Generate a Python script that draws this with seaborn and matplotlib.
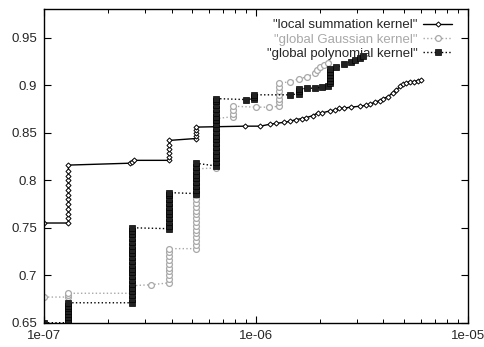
import pandas as pd
import matplotlib
matplotlib.use("Agg")
import matplotlib.pyplot as plt
import seaborn as sns
from matplotlib.ticker import LogLocator, FuncFormatter, FixedLocator, NullFormatter

# local summation kernel
local_x = [1.0e-7, 1.3e-7, 1.3e-7, 1.3e-7, 1.3e-7, 1.3e-7, 1.3e-7, 1.3e-7,
           1.3e-7, 1.3e-7, 1.3e-7, 1.3e-7, 1.3e-7, 1.3e-7,
           2.55e-7, 2.6e-7, 2.65e-7,
           3.9e-7, 3.9e-7, 3.9e-7, 3.9e-7, 3.9e-7, 3.9e-7,
           5.2e-7, 5.2e-7, 5.2e-7, 5.2e-7, 5.2e-7,
           8.9e-7, 1.05e-6, 1.16e-6, 1.25e-6, 1.35e-6, 1.44e-6, 1.55e-6, 1.65e-6,
           1.73e-6, 1.85e-6, 1.96e-6, 2.05e-6, 2.23e-6, 2.35e-6, 2.48e-6, 2.6e-6,
           2.8e-6, 3.09e-6, 3.3e-6, 3.45e-6, 3.63e-6, 3.84e-6, 4.0e-6, 4.2e-6,
           4.42e-6, 4.6e-6, 4.8e-6, 4.93e-6, 5.1e-6, 5.32e-6, 5.6e-6, 5.8e-6, 6.04e-6]
local_y = [0.755, 0.755, 0.760, 0.765, 0.770, 0.775, 0.780, 0.785,
           0.790, 0.795, 0.800, 0.805, 0.810, 0.816,
           0.818, 0.819, 0.821,
           0.821, 0.825, 0.829, 0.833, 0.837, 0.842,
           0.844, 0.847, 0.850, 0.853, 0.856,
           0.857, 0.857, 0.859, 0.860, 0.861, 0.862, 0.864, 0.865,
           0.866, 0.868, 0.871, 0.871, 0.873, 0.874, 0.876, 0.876,
           0.877, 0.878, 0.879, 0.880, 0.882, 0.884, 0.886, 0.888,
           0.892, 0.895, 0.899, 0.901, 0.902, 0.904, 0.904, 0.905, 0.906]

# global Gaussian kernel
gauss_x = [1.0e-7, 1.29e-7, 1.29e-7, 1.29e-7,
           2.6e-7, 2.6e-7, 2.6e-7, 3.2e-7, 3.9e-7,
           3.9e-7, 3.9e-7, 3.9e-7, 3.9e-7, 3.9e-7, 3.9e-7, 3.9e-7, 3.9e-7, 3.9e-7,
           5.2e-7,
           5.2e-7, 5.2e-7, 5.2e-7, 5.2e-7, 5.2e-7, 5.2e-7, 5.2e-7, 5.2e-7, 5.2e-7,
           5.2e-7, 5.2e-7, 5.2e-7, 5.2e-7, 5.2e-7, 5.2e-7, 5.2e-7, 5.2e-7, 5.2e-7,
           5.2e-7, 5.2e-7, 5.2e-7,
           6.5e-7,
           6.5e-7, 6.5e-7, 6.5e-7, 6.5e-7, 6.5e-7, 6.5e-7, 6.5e-7, 6.5e-7, 6.5e-7,
           6.5e-7, 6.5e-7, 6.5e-7, 6.5e-7,
           7.8e-7, 7.8e-7, 7.8e-7, 7.8e-7,
           1.0e-6, 1.15e-6, 1.29e-6,
           1.29e-6, 1.29e-6, 1.29e-6, 1.29e-6, 1.29e-6, 1.29e-6,
           1.45e-6, 1.6e-6, 1.75e-6, 1.9e-6, 1.95e-6, 2.0e-6, 2.1e-6, 2.2e-6]
gauss_y = [0.677, 0.677, 0.679, 0.681,
           0.681, 0.685, 0.689, 0.690, 0.692,
           0.696, 0.700, 0.704, 0.708, 0.712, 0.716, 0.720, 0.724, 0.728,
           0.728,
           0.732, 0.736, 0.740, 0.744, 0.748, 0.752, 0.756, 0.760, 0.764,
           0.768, 0.772, 0.776, 0.780, 0.784, 0.788, 0.792, 0.796, 0.800,
           0.804, 0.808, 0.812,
           0.813,
           0.817, 0.821, 0.825, 0.829, 0.833, 0.837, 0.841, 0.845, 0.849,
           0.853, 0.857, 0.861, 0.865,
           0.867, 0.870, 0.874, 0.878,
           0.877, 0.877, 0.878,
           0.882, 0.886, 0.890, 0.894, 0.898, 0.902,
           0.904, 0.907, 0.909, 0.913, 0.916, 0.919, 0.921, 0.924]

# global polynomial kernel
poly_x = [1.0e-7, 1.29e-7,
          1.29e-7, 1.29e-7, 1.29e-7, 1.29e-7, 1.29e-7, 1.29e-7, 1.29e-7,
          2.6e-7,
          2.6e-7, 2.6e-7, 2.6e-7, 2.6e-7, 2.6e-7, 2.6e-7, 2.6e-7, 2.6e-7, 2.6e-7, 2.6e-7,
          2.6e-7, 2.6e-7, 2.6e-7, 2.6e-7, 2.6e-7, 2.6e-7, 2.6e-7, 2.6e-7, 2.6e-7, 2.6e-7,
          3.9e-7,
          3.9e-7, 3.9e-7, 3.9e-7, 3.9e-7, 3.9e-7, 3.9e-7, 3.9e-7, 3.9e-7, 3.9e-7, 3.9e-7,
          5.2e-7,
          5.2e-7, 5.2e-7, 5.2e-7, 5.2e-7, 5.2e-7, 5.2e-7, 5.2e-7, 5.2e-7,
          6.5e-7,
          6.5e-7, 6.5e-7, 6.5e-7, 6.5e-7, 6.5e-7, 6.5e-7, 6.5e-7, 6.5e-7, 6.5e-7,
          6.5e-7, 6.5e-7, 6.5e-7, 6.5e-7, 6.5e-7, 6.5e-7, 6.5e-7, 6.5e-7, 6.5e-7,
          9.0e-7, 9.8e-7, 9.8e-7, 9.8e-7,
          1.44e-6, 1.6e-6, 1.6e-6, 1.6e-6,
          1.75e-6, 1.9e-6, 2.05e-6, 2.2e-6,
          2.23e-6, 2.23e-6, 2.23e-6, 2.23e-6, 2.23e-6, 2.23e-6,
          2.4e-6, 2.6e-6, 2.8e-6, 2.95e-6, 3.1e-6, 3.2e-6]
poly_y = [0.650, 0.650,
          0.653, 0.656, 0.659, 0.662, 0.665, 0.668, 0.671,
          0.671,
          0.675, 0.679, 0.683, 0.687, 0.691, 0.695, 0.699, 0.703, 0.707, 0.711,
          0.715, 0.719, 0.723, 0.727, 0.731, 0.735, 0.739, 0.743, 0.747, 0.750,
          0.749,
          0.752, 0.756, 0.760, 0.764, 0.768, 0.772, 0.776, 0.780, 0.784, 0.787,
          0.786,
          0.790, 0.794, 0.798, 0.802, 0.806, 0.810, 0.814, 0.818,
          0.815,
          0.819, 0.823, 0.827, 0.831, 0.835, 0.839, 0.843, 0.847, 0.851,
          0.855, 0.859, 0.863, 0.867, 0.871, 0.875, 0.879, 0.883, 0.886,
          0.885, 0.886, 0.888, 0.890,
          0.890, 0.891, 0.894, 0.896,
          0.897, 0.897, 0.898, 0.899,
          0.902, 0.905, 0.908, 0.911, 0.914, 0.917,
          0.919, 0.922, 0.925, 0.927, 0.929, 0.931]

labels = ['"local summation kernel"', '"global Gaussian kernel"', '"global polynomial kernel"']
y_ticks = [0.65, 0.7, 0.75, 0.8, 0.85, 0.9, 0.95]
x_ticks = [1e-7, 1e-6, 1e-5]

sns.set_style("ticks")
plt.rcParams['font.family'] = ['Liberation Sans', 'DejaVu Sans']

fig = plt.figure(figsize=(4.85, 3.47), dpi=100)
ax = fig.add_axes([0.0913, 0.070, 0.873, 0.903])

gray = "#a8a8a8"

sns.lineplot(x=local_x, y=local_y, ax=ax, sort=False, estimator=None, errorbar=None,
             color="black", lw=1.0, marker="D", markersize=2.6, mfc="white",
             mec="black", mew=0.7, label=labels[0])
sns.lineplot(x=gauss_x, y=gauss_y, ax=ax, sort=False, estimator=None, errorbar=None,
             color=gray, lw=1.0, linestyle=":", marker="o", markersize=4.2, mfc="white",
             mec=gray, mew=0.9, label=labels[1])
sns.lineplot(x=poly_x, y=poly_y, ax=ax, sort=False, estimator=None, errorbar=None,
             color="black", lw=1.0, linestyle=":", marker="s", markersize=4.0, mfc="#222222",
             mec="black", mew=0.5, label=labels[2])

ax.set_xscale("log")
ax.set_xlim(1e-7, 1e-5)
ax.set_ylim(0.65, 0.98)
ax.xaxis.set_major_locator(FixedLocator(x_ticks))
ax.xaxis.set_major_formatter(FuncFormatter(lambda v, p: f"{v:.0e}"))
ax.xaxis.set_minor_locator(LogLocator(base=10, subs=range(2, 10)))
ax.xaxis.set_minor_formatter(NullFormatter())
ax.yaxis.set_major_locator(FixedLocator(y_ticks))
ax.yaxis.set_major_formatter(FuncFormatter(lambda v, p: f"{v:g}"))
ax.set_xlabel("")
ax.set_ylabel("")

ax.tick_params(which="both", direction="in", top=True, right=True, labelsize=9.5, color="black")
ax.tick_params(which="major", length=5, width=0.8, pad=5)
ax.tick_params(which="minor", length=3, width=0.7)
for s in ax.spines.values():
    s.set_color("black")
    s.set_linewidth(1.0)

leg = ax.legend(loc="upper right", bbox_to_anchor=(0.963, 0.969), frameon=False,
                markerfirst=False, fontsize=9.5, handlelength=2.2, handletextpad=0.4,
                labelspacing=0.15, borderpad=0, borderaxespad=0)
leg._legend_box.align = "right"
leg.get_texts()[1].set_color(gray)

fig.savefig("out.png", dpi=100)
